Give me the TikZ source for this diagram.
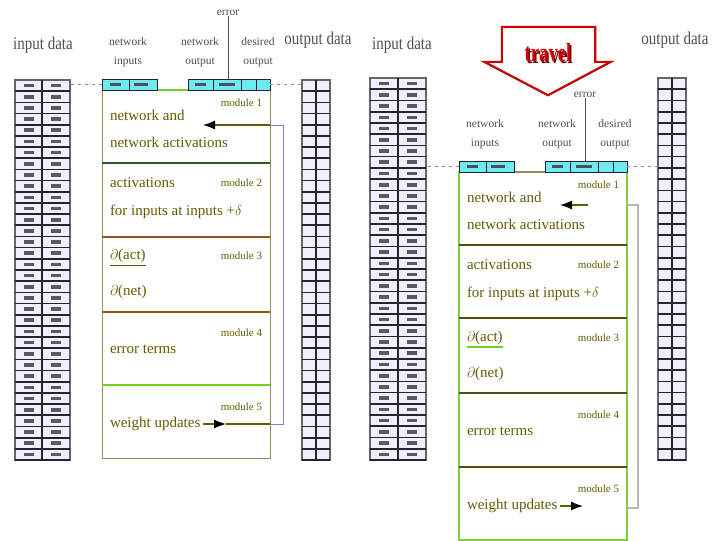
\documentclass[tikz,border=0pt]{standalone}
\usepackage{fontspec}
\setmainfont{Liberation Serif}
\usetikzlibrary{arrows.meta}
\definecolor{txt}{RGB}{100,92,0}
\definecolor{boxline}{RGB}{150,140,90}
\definecolor{lgreen}{RGB}{110,210,30}
\definecolor{rgreen}{RGB}{130,205,60}
\definecolor{dgreen}{RGB}{50,90,45}
\definecolor{brownline}{RGB}{145,85,20}
\definecolor{rdiv}{RGB}{85,75,10}
\definecolor{cyanfill}{RGB}{110,235,240}
\definecolor{cellbg}{RGB}{242,238,252}
\definecolor{rowdark}{RGB}{35,35,50}
\definecolor{fbline}{RGB}{135,125,210}
\definecolor{fbgray}{RGB}{185,185,185}
\definecolor{graytxt}{RGB}{80,80,80}
\definecolor{travelred}{RGB}{210,0,0}
\definecolor{darkred}{RGB}{110,0,0}
\definecolor{dashcol}{RGB}{140,140,170}

\newcommand\vs[1]{\scalebox{1}[1.2]{#1}}

\newcommand\dtable[8]{%
  \node[draw=gray!80!black, line width=1.4pt, fill=cellbg, anchor=north west,
        minimum width={(#4-#2)*1pt}, minimum height={(#6-#5)*1pt}] (#1) at (#2,#5) {};
  \foreach \k in {1,...,#7}{
    \pgfmathsetmacro\yy{#5+\k*(#6-#5)/#7}
    \draw[rowdark, line width=1.7pt] (#2,\yy) -- (#4,\yy);
  }
  \draw[rowdark, line width=1.2pt] (#3,#5) -- (#3,#6);
  \ifnum#8=1
  \foreach \k in {1,...,#7}{
    \pgfmathsetmacro\yc{#5+(\k-0.5)*(#6-#5)/#7}
    \fill[gray!70!black] ({(#2+#3)/2-5},{\yc-1.8}) rectangle ++(10,3.6);
    \fill[gray!70!black] ({(#3+#4)/2-5},{\yc-1.8}) rectangle ++(10,3.6);
  }
  \fi
}

\newcommand\modtexts[1]{%
  \node[mtxt] (#1t1a) at (110,115) {network and};
  \node[mtxt] (#1t1b) at (110,142) {network activations};
  \node[mlab] (#1m1) at (262,103) {module 1};
  \node[mtxt] (#1t2a) at (110,183) {activations};
  \node[mtxt] (#1t2b) at (110,212) {for inputs at inputs +$\delta$};
  \node[mlab] (#1m2) at (262,183) {module 2};
  \node[mtxt] (#1t3a) at (110,256) {$\partial$(act)};
  \node[mtxt] (#1t3b) at (110,292) {$\partial$(net)};
  \node[mlab] (#1m3) at (262,256) {module 3};
  \node[mlab] (#1m4) at (262,333) {module 4};
  \node[mtxt] (#1t4) at (110,349) {error terms};
  \node[mlab] (#1m5) at (262,407) {module 5};
  \node[mtxt] (#1t5) at (110,424) {weight updates};
  \node[ctxt] (#1ni) at (128,52) {network\\inputs};
  \node[ctxt] (#1no) at (200,52) {network\\output};
  \node[ctxt] (#1do) at (258,52) {desired\\output};
  \node[ctxt] (#1err) at (228,13) {error};
  % network boxes
  \node[netbox, minimum width=55pt] (#1nib) at (129.5,84.5) {};
  \draw[rowdark, line width=1pt] (129,79) -- (129,90);
  \fill[rowdark!80] (110,83) rectangle (121,86);
  \fill[rowdark!80] (134,83) rectangle (148,86);
  \node[netbox, minimum width=82pt] (#1nob) at (229,84.5) {};
  \foreach \xx in {213,241,256}{\draw[rowdark, line width=1pt] (\xx,79) -- (\xx,90);}
  \fill[rowdark!80] (195,83) rectangle (206,86);
  \fill[rowdark!80] (219,83) rectangle (235,86);
  \draw[graytxt, line width=0.8pt] (#1err.south) -- (#1err.south |- #1nob.north);
}

\begin{document}
\begin{tikzpicture}[x=1pt,y=-1pt,
  every node/.style={inner sep=0pt, outer sep=0pt},
  mtxt/.style={anchor=west, text=txt, font=\fontsize{15}{15}\selectfont},
  mlab/.style={anchor=east, text=txt, font=\fontsize{11}{11}\selectfont},
  ctxt/.style={align=center, text=graytxt, font=\fontsize{11.5}{19}\selectfont},
  bigtxt/.style={text=graytxt, font=\fontsize{15}{15}\selectfont},
  netbox/.style={draw=rowdark, line width=0.9pt, fill=cyanfill, minimum height=11pt},
  dashline/.style={dashcol, dashed, line width=1.2pt, dash pattern=on 3pt off 4pt},
  arr/.style={txt, line width=1.2pt, -{Latex[length=12pt,width=9pt,color=black]}},
]
\useasboundingbox (0,0) rectangle (721,541);
\fill[white] (0,0) rectangle (721,541);

% ---------------- left panel ----------------
\node[bigtxt] (Lind) at (43,45) {\vs{input data}};
\node[bigtxt] (Loutd) at (318,40) {\vs{output data}};
\dtable{Lin}{15}{42}{70}{80}{460}{34}{1}
\dtable{Lout}{302}{316}{330}{80}{460}{34}{0}

\node[draw=boxline, line width=1pt, anchor=north west, minimum width=168pt, minimum height=368pt] (Lbox) at (102,90) {};
\draw[lgreen, line width=2.2pt] (102,90) -- (270,90);
\draw[dgreen, line width=2pt] (102,163) -- (270,163);
\draw[brownline, line width=2pt] (102,237) -- (270,237);
\draw[brownline, line width=2pt] (102,312) -- (270,312);
\draw[lgreen, line width=2pt] (102,385) -- (270,385);
\modtexts{L}
\draw[txt, line width=1pt] (110,265) -- (146,265);
\draw[dashline] (Lnib.west) -- (Lnib.west -| Lin.east);
\draw[dashline] (Lnob.east) -- (Lnob.east -| Lout.west);

\coordinate (Lmid) at (226,424);
\coordinate (Lb5) at (270,424);
\coordinate (Lc1) at (283,424);
\coordinate (Lc2) at (283,125);
\coordinate (Le) at (270,125);
\coordinate (Ltip) at (203,125);
\draw[arr] ([xshift=3pt]Lt5.east) -- (Lmid);
\draw[txt, line width=1.2pt] (Lmid) -- (Lb5);
\draw[fbline, line width=1pt] (Lb5) -- (Lc1) -- (Lc2) -- (Le);
\draw[arr] (Le) -- (Ltip);

% ---------------- right panel ----------------
\node[bigtxt] (Rind) at (402,45) {\vs{input data}};
\node[bigtxt] (Routd) at (675,40) {\vs{output data}};
\dtable{Rin}{370}{398}{426}{78}{460}{34}{1}
\dtable{Rout}{658}{672}{686}{78}{460}{34}{0}

% travel arrow
\coordinate (T1) at (502,27);
\coordinate (T2) at (595,27);
\coordinate (T3) at (595,62);
\coordinate (T4) at (610,62);
\coordinate (T5) at (548,95);
\coordinate (T6) at (485,62);
\coordinate (T7) at (502,62);
\draw[darkred, line width=2.5pt, line join=miter, shift={(-1.5,-1.5)}] (T1) -- (T2) -- (T3) -- (T4) -- (T5) -- (T6) -- (T7) -- cycle;
\draw[travelred, fill=white, line width=1.8pt, line join=miter] (T1) -- (T2) -- (T3) -- (T4) -- (T5) -- (T6) -- (T7) -- cycle;
\node[text=darkred, font=\fontsize{26}{26}\selectfont\bfseries] (travelsh) at (549.5,54.5) {\scalebox{0.72}[1]{travel}};
\node[text=travelred, font=\fontsize{26}{26}\selectfont\bfseries] (travel) at (548,53) {\scalebox{0.72}[1]{travel}};

\begin{scope}[shift={(357,82)}]
\node[draw=rgreen, line width=1.2pt, anchor=north west, minimum width=168pt, minimum height=368pt] (Rbox) at (102,90) {};
\draw[boxline, line width=1.2pt] (102,90) -- (270,90);
\foreach \yy in {163,236,311,385}{\draw[rdiv, line width=2.2pt] (102,\yy) -- (270,\yy);}
\modtexts{R}
\draw[lgreen, line width=1.2pt] (110,265) -- (146,265);
\draw[dashline] (Rnib.west) -- (Rnib.west -| Rin.east);
\draw[dashline] (Rnob.east) -- (Rnob.east -| Rout.west);
\coordinate (Ra1) at (231,123);
\coordinate (Ra1t) at (203,123);
\coordinate (Ra5) at (226,424);
\coordinate (Rb1) at (270,123);
\coordinate (Rb2) at (281,123);
\coordinate (Rb3) at (281,426);
\coordinate (Rb4) at (270,426);
\draw[arr] (Ra1) -- (Ra1t);
\draw[arr] ([xshift=3pt]Rt5.east) -- (Ra5);
\draw[fbgray, line width=2pt] (Rb1) -- (Rb2) -- (Rb3) -- (Rb4);
\end{scope}
\end{tikzpicture}
\end{document}
